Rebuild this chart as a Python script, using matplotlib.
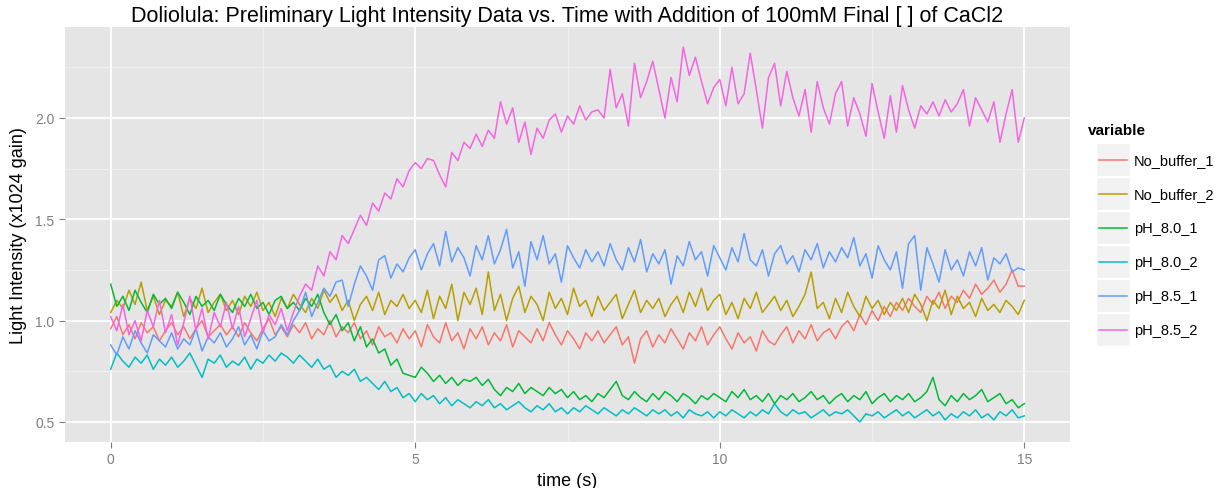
import numpy as np
import matplotlib
matplotlib.use("Agg")
import matplotlib.pyplot as plt
from matplotlib.patches import Rectangle

plt.rcParams['font.family'] = ['Liberation Sans Narrow', 'Liberation Sans', 'DejaVu Sans']

# time axis, one reading every 0.1 s
time = np.round(np.arange(0, 151) * 0.1, 1)

names = ["No_buffer_1", "No_buffer_2", "pH_8.0_1", "pH_8.0_2", "pH_8.5_1", "pH_8.5_2"]
colors = ["#F8766D", "#B79F00", "#00BA38", "#00BFC4", "#619CFF", "#F564E3"]

no_buffer_1 = [
    0.96, 1.02, 0.93, 0.98, 0.91, 0.99, 0.94, 0.97, 0.90, 0.95,
    0.99, 0.93, 0.97, 0.91, 0.96, 1.00, 0.92, 0.95, 0.98, 0.93,
    0.97, 0.92, 0.99, 0.94, 0.90, 0.96, 1.01, 0.93, 0.97, 0.92,
    0.98, 0.94, 0.99, 0.91, 0.96, 0.93, 1.00, 0.92, 0.97, 0.94,
    0.99, 0.91, 0.95, 0.88, 0.97, 0.92, 0.94, 0.89, 0.96, 0.91,
    0.95, 0.87, 0.98, 0.92, 0.89, 0.99, 0.90, 0.94, 0.86, 0.96,
    0.91, 0.97, 0.88, 0.94, 0.90, 0.98, 0.87, 0.95, 0.92, 0.89,
    0.96, 0.90, 0.99, 0.93, 0.88, 0.95, 0.91, 0.86, 0.94, 0.90,
    0.95, 0.89, 0.93, 0.97, 0.88, 0.92, 0.79, 0.91, 0.95, 0.87,
    0.93, 0.89, 0.96, 0.91, 0.86, 0.94, 0.90, 0.97, 0.88, 0.93,
    0.97, 0.91, 0.86, 0.94, 0.89, 0.92, 0.85, 0.95, 0.90, 0.88,
    0.93, 0.97, 0.89, 0.95, 0.91, 0.98, 0.90, 0.94, 0.96, 0.91,
    0.97, 1.00, 0.95, 1.03, 0.98, 1.05, 1.00, 1.07, 1.02, 1.09,
    1.05, 1.11, 1.07, 1.04, 1.12, 1.08, 1.14, 1.06, 1.12, 1.09,
    1.15, 1.11, 1.18, 1.13, 1.16, 1.20, 1.14, 1.18, 1.25, 1.17,
    1.17]

no_buffer_2 = [
    1.04, 1.10, 1.06, 1.15, 1.08, 1.19, 1.05, 1.12, 1.03, 1.10,
    1.07, 1.14, 1.02, 1.11, 1.06, 1.16, 1.04, 1.09, 1.13, 1.05,
    1.10, 1.03, 1.12, 1.07, 1.14, 1.05, 1.09, 1.02, 1.11, 1.06,
    1.13, 1.08, 1.04, 1.11, 1.06, 1.15, 1.09, 1.13, 1.05, 1.10,
    1.00, 1.08, 1.12, 1.05, 1.14, 1.03, 1.10, 1.07, 1.13, 1.06,
    1.10, 1.04, 1.15, 1.01, 1.12, 1.06, 1.18, 1.00, 1.14, 1.08,
    1.16, 1.03, 1.24, 1.05, 1.13, 1.00, 1.11, 1.17, 1.04, 1.12,
    1.08, 1.00, 1.14, 1.06, 1.11, 1.03, 1.16, 1.07, 1.10, 1.02,
    1.12, 1.05, 1.09, 1.13, 1.01, 1.08, 1.15, 1.04, 1.10, 1.06,
    1.11, 1.02, 1.08, 1.12, 1.04, 1.14, 1.07, 1.16, 1.05, 1.10,
    1.13, 1.03, 1.09, 1.01, 1.11, 1.06, 1.14, 1.04, 1.08, 1.12,
    1.05, 1.10, 1.02, 1.07, 1.13, 1.24, 1.06, 1.09, 1.01, 1.11,
    1.04, 1.14, 1.07, 1.02, 1.12, 1.06, 1.10, 1.03, 1.09, 1.05,
    1.11, 1.04, 1.13, 1.08, 1.00, 1.10, 1.06, 1.15, 1.03, 1.12,
    1.06, 1.09, 1.02, 1.11, 1.05, 1.08, 1.04, 1.10, 1.07, 1.03,
    1.10]

ph80_1 = [
    1.18, 1.07, 1.12, 1.05, 1.15, 1.09, 1.04, 1.13, 1.08, 1.11,
    1.06, 1.14, 1.09, 1.03, 1.12, 1.07, 1.10, 1.05, 1.13, 1.08,
    1.04, 1.11, 1.07, 1.13, 1.06, 1.09, 1.03, 1.10, 1.12, 1.06,
    1.09, 1.05, 1.11, 1.07, 1.13, 1.04, 0.98, 1.03, 0.95, 0.99,
    0.90, 0.97, 0.87, 0.91, 0.84, 0.86, 0.78, 0.81, 0.74, 0.73,
    0.72, 0.77, 0.74, 0.70, 0.73, 0.69, 0.72, 0.68, 0.71, 0.70,
    0.72, 0.68, 0.71, 0.66, 0.63, 0.67, 0.65, 0.69, 0.64, 0.67,
    0.65, 0.63, 0.67, 0.64, 0.66, 0.62, 0.65, 0.61, 0.63, 0.60,
    0.64, 0.62, 0.66, 0.70, 0.63, 0.61, 0.65, 0.62, 0.60, 0.64,
    0.61, 0.65, 0.63, 0.60, 0.64, 0.62, 0.59, 0.63, 0.61, 0.64,
    0.62, 0.60, 0.65, 0.62, 0.66, 0.61, 0.63, 0.60, 0.64, 0.59,
    0.63, 0.61, 0.64, 0.60, 0.62, 0.65, 0.61, 0.63, 0.59, 0.62,
    0.64, 0.60, 0.63, 0.61, 0.65, 0.59, 0.62, 0.64, 0.60, 0.63,
    0.61, 0.64, 0.60, 0.62, 0.65, 0.72, 0.61, 0.58, 0.63, 0.60,
    0.64, 0.61, 0.63, 0.66, 0.60, 0.62, 0.64, 0.59, 0.61, 0.57,
    0.59]

ph80_2 = [
    0.76, 0.84, 0.80, 0.77, 0.82, 0.79, 0.83, 0.76, 0.81, 0.78,
    0.82, 0.77, 0.80, 0.84, 0.78, 0.72, 0.81, 0.79, 0.83, 0.77,
    0.80, 0.78, 0.82, 0.76, 0.81, 0.79, 0.83, 0.80, 0.84, 0.82,
    0.79, 0.83, 0.80, 0.77, 0.81, 0.76, 0.78, 0.72, 0.75, 0.73,
    0.76, 0.70, 0.72, 0.69, 0.66, 0.70, 0.65, 0.67, 0.62, 0.64,
    0.60, 0.64, 0.61, 0.63, 0.59, 0.62, 0.58, 0.61, 0.59, 0.57,
    0.60, 0.58, 0.61, 0.57, 0.59, 0.56, 0.58, 0.60, 0.57, 0.55,
    0.58, 0.56, 0.59, 0.55, 0.57, 0.54, 0.57, 0.55, 0.58, 0.56,
    0.54, 0.57, 0.55, 0.53, 0.56, 0.54, 0.57, 0.55, 0.53, 0.56,
    0.54, 0.56, 0.53, 0.55, 0.52, 0.56, 0.54, 0.53, 0.55, 0.52,
    0.55, 0.53, 0.56, 0.54, 0.52, 0.55, 0.53, 0.56, 0.54, 0.59,
    0.55, 0.53, 0.56, 0.54, 0.55, 0.52, 0.54, 0.56, 0.53, 0.55,
    0.54, 0.56, 0.53, 0.50, 0.54, 0.53, 0.55, 0.52, 0.54, 0.56,
    0.53, 0.55, 0.52, 0.54, 0.56, 0.53, 0.55, 0.51, 0.54, 0.52,
    0.55, 0.53, 0.56, 0.52, 0.54, 0.51, 0.55, 0.53, 0.56, 0.52,
    0.53]

ph85_1 = [
    0.88, 0.83, 0.92, 0.86, 0.95, 0.89, 0.84, 0.93, 0.90, 0.87,
    0.94, 0.86, 0.91, 0.88, 0.96, 0.85, 0.92, 0.89, 0.94, 0.87,
    0.91, 0.97, 0.88, 0.93, 0.86, 0.95, 0.90, 0.92, 0.98, 0.93,
    1.00, 1.05, 1.14, 1.02, 1.09, 1.16, 1.12, 1.19, 1.20, 1.07,
    1.18, 1.27, 1.22, 1.15, 1.30, 1.32, 1.21, 1.28, 1.24, 1.31,
    1.35, 1.25, 1.33, 1.38, 1.27, 1.44, 1.29, 1.36, 1.31, 1.22,
    1.37, 1.30, 1.42, 1.28, 1.35, 1.45, 1.26, 1.34, 1.17, 1.39,
    1.30, 1.42, 1.28, 1.33, 1.19, 1.37, 1.31, 1.26, 1.35, 1.29,
    1.34, 1.27, 1.38, 1.30, 1.25, 1.36, 1.29, 1.40, 1.24, 1.33,
    1.28, 1.35, 1.18, 1.32, 1.27, 1.39, 1.30, 1.34, 1.22, 1.37,
    1.31, 1.25, 1.36, 1.29, 1.43, 1.30, 1.27, 1.35, 1.22, 1.33,
    1.37, 1.28, 1.32, 1.24, 1.35, 1.30, 1.38, 1.26, 1.34, 1.29,
    1.36, 1.31, 1.41, 1.27, 1.33, 1.21, 1.37, 1.30, 1.25, 1.34,
    1.16, 1.38, 1.42, 1.15, 1.36, 1.28, 1.19, 1.35, 1.25, 1.30,
    1.22, 1.34, 1.27, 1.36, 1.20, 1.31, 1.28, 1.33, 1.24, 1.26,
    1.25]

ph85_2 = [
    1.02, 0.95, 1.08, 0.93, 1.00, 0.90, 1.05, 0.97, 1.10, 0.94,
    1.03, 0.88, 0.99, 1.12, 0.95, 1.06, 0.91, 1.04, 0.97, 1.09,
    0.96, 1.07, 0.92, 1.01, 1.10, 0.94, 1.03, 0.98, 1.06, 0.95,
    1.04, 1.12, 1.18, 1.15, 1.27, 1.22, 1.34, 1.30, 1.42, 1.38,
    1.45, 1.52, 1.47, 1.58, 1.54, 1.63, 1.60, 1.70, 1.66, 1.74,
    1.78, 1.75, 1.80, 1.79, 1.72, 1.66, 1.83, 1.79, 1.88, 1.85,
    1.92, 1.86, 1.94, 1.90, 2.08, 1.97, 2.05, 1.88, 1.98, 1.82,
    1.95, 1.90, 1.99, 2.02, 1.93, 2.01, 1.97, 2.06, 1.99, 2.03,
    2.04, 2.00, 2.24, 2.05, 2.12, 1.96, 2.27, 2.10, 2.18, 2.28,
    2.14, 2.00, 2.20, 2.08, 2.35, 2.21, 2.30, 2.18, 2.07, 2.15,
    2.19, 2.06, 2.25, 2.07, 2.12, 2.32, 2.14, 1.95, 2.20, 2.27,
    2.06, 2.23, 2.10, 2.01, 2.14, 1.93, 2.18, 2.05, 1.97, 2.12,
    2.18, 1.96, 2.10, 2.02, 1.91, 2.17, 2.03, 1.90, 2.11, 1.93,
    2.16, 2.04, 1.95, 2.06, 2.02, 2.08, 2.01, 2.09, 2.03, 2.07,
    2.14, 1.96, 2.10, 2.04, 1.98, 2.08, 1.88, 2.02, 2.14, 1.88,
    2.00]

series = [no_buffer_1, no_buffer_2, ph80_1, ph80_2, ph85_1, ph85_2]

fig = plt.figure(figsize=(12.17, 4.89), dpi=100)
ax = fig.add_axes([65/1217, 1 - 443/489, (1070 - 65)/1217, (443 - 28)/489])
ax.set_facecolor("#E5E5E5")
for s in ax.spines.values():
    s.set_visible(False)

for vals, c in zip(series, colors):
    ax.plot(time, vals, color=c, lw=1.1, zorder=3)

ax.set_xlim(-0.75, 15.75)
ax.set_ylim(0.401, 2.449)
ax.set_xticks([0, 5, 10, 15])
ax.set_xticks([2.5, 7.5, 12.5], minor=True)
ax.set_yticks([0.5, 1.0, 1.5, 2.0])
ax.set_yticks([0.75, 1.25, 1.75, 2.25], minor=True)
ax.set_yticklabels(["0.5", "1.0", "1.5", "2.0"])
ax.grid(which="major", color="white", lw=1.3, zorder=1)
ax.grid(which="minor", color="#F2F2F2", lw=0.6, zorder=1)
ax.set_axisbelow(True)
ax.tick_params(which="major", length=4, color="#7F7F7F", labelcolor="#7F7F7F", labelsize=10)
ax.tick_params(which="minor", length=0)

ax.set_xlabel("time (s)", fontsize=13, labelpad=4)
ax.set_ylabel("Light Intensity (x1024 gain)", fontsize=13, labelpad=6)
ax.set_title("Doliolula: Preliminary Light Intensity Data vs. Time with Addition of 100mM Final [ ] of CaCl2",
             fontsize=15.5, pad=4)

# legend drawn by hand, ggplot style
lax = fig.add_axes([1083/1217, 1 - 360/489, 120/1217, (360 - 120)/489])
lax.set_xlim(1083, 1203)
lax.set_ylim(360, 120)
lax.axis("off")
lax.text(1088, 131, "variable", fontsize=11, fontweight="bold", va="center", ha="left")
row_h = 34
for i, (n, c) in enumerate(zip(names, colors)):
    top = 144 + i * row_h
    lax.add_patch(Rectangle((1096, top), 34, row_h - 1, facecolor="#F2F2F2", edgecolor="white", lw=1))
    lax.plot([1099, 1127], [top + row_h / 2, top + row_h / 2], color=c, lw=1.1)
    lax.text(1134, top + row_h / 2, n, fontsize=10.5, va="center", ha="left")

fig.savefig("out.png", dpi=100)
